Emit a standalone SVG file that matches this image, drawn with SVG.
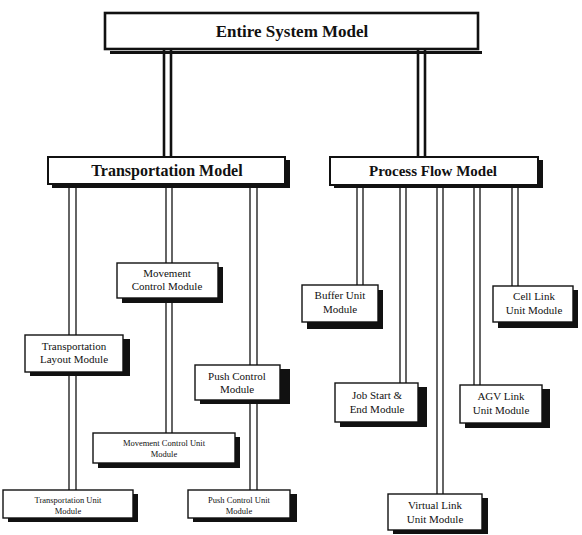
<svg xmlns="http://www.w3.org/2000/svg" width="582" height="535" viewBox="0 0 582 535">
<style>
.bg{fill:#ffffff}
.sh{fill:#111111}
.box{fill:#ffffff;stroke:#111111;stroke-width:1.4}
.big{fill:#ffffff;stroke:#111111;stroke-width:2.6}
.mid{fill:#ffffff;stroke:#111111;stroke-width:2}
.c{stroke:#111111;stroke-width:1.3;fill:none}
.ct{stroke:#111111;stroke-width:2.6;fill:none}
.ttl{font-family:"Liberation Serif",serif;font-weight:bold;fill:#111111;text-anchor:middle}
.lbl{font-family:"Liberation Serif",serif;fill:#111111;text-anchor:middle;font-size:11px}
.sm{font-family:"Liberation Serif",serif;fill:#111111;text-anchor:middle;font-size:8.5px}
</style>
<rect class="bg" x="0" y="0" width="582" height="535"/>
<g id="connectors">
<line class="ct" x1="164" y1="50" x2="164" y2="157"/>
<line class="ct" x1="171" y1="50" x2="171" y2="157"/>
<line class="ct" x1="418" y1="50" x2="418" y2="157"/>
<line class="ct" x1="425" y1="50" x2="425" y2="157"/>
<line class="c" x1="69" y1="185" x2="69" y2="490"/>
<line class="c" x1="76" y1="185" x2="76" y2="490"/>
<line class="c" x1="166" y1="185" x2="166" y2="433"/>
<line class="c" x1="172" y1="185" x2="172" y2="433"/>
<line class="c" x1="250" y1="185" x2="250" y2="490"/>
<line class="c" x1="257" y1="185" x2="257" y2="490"/>
<line class="c" x1="357" y1="185" x2="357" y2="285"/>
<line class="c" x1="363" y1="185" x2="363" y2="285"/>
<line class="c" x1="400" y1="185" x2="400" y2="383"/>
<line class="c" x1="406" y1="185" x2="406" y2="383"/>
<line class="c" x1="437" y1="185" x2="437" y2="494"/>
<line class="c" x1="443" y1="185" x2="443" y2="494"/>
<line class="c" x1="474" y1="185" x2="474" y2="385"/>
<line class="c" x1="480" y1="185" x2="480" y2="385"/>
<line class="c" x1="512" y1="185" x2="512" y2="286"/>
<line class="c" x1="518" y1="185" x2="518" y2="286"/>
</g>
<g id="entire">
<rect class="sh" x="110" y="51" width="372" height="3"/>
<rect class="big" x="105" y="13" width="373" height="36"/>
<text class="ttl" x="292" y="37" font-size="17">Entire System Model</text>
</g>
<g id="transportation">
<rect class="sh" x="52" y="160" width="238" height="28"/>
<rect class="mid" x="48" y="157" width="237" height="27"/>
<text class="ttl" x="167" y="176" font-size="16">Transportation Model</text>
</g>
<g id="process">
<rect class="sh" x="334" y="160" width="209" height="28"/>
<rect class="mid" x="330" y="157" width="208" height="28"/>
<text class="ttl" x="433" y="176" font-size="15">Process Flow Model</text>
</g>
<g id="movement">
<rect class="sh" x="122" y="267" width="101" height="36"/>
<rect class="box" x="117" y="263" width="101" height="35"/>
<text class="lbl" x="167" y="277">Movement</text>
<text class="lbl" x="167" y="290">Control Module</text>
</g>
<g id="layout">
<rect class="sh" x="30" y="339" width="100" height="37"/>
<rect class="box" x="25" y="335" width="98" height="37"/>
<text class="lbl" x="74" y="350">Transportation</text>
<text class="lbl" x="74" y="363">Layout Module</text>
</g>
<g id="push">
<rect class="sh" x="200" y="369" width="90" height="35"/>
<rect class="box" x="195" y="365" width="85" height="35"/>
<text class="lbl" x="237" y="380">Push Control</text>
<text class="lbl" x="237" y="393">Module</text>
</g>
<g id="movementunit">
<rect class="sh" x="98" y="437" width="142" height="31"/>
<rect class="box" x="93" y="433" width="142" height="30"/>
<text class="sm" x="164" y="446">Movement Control Unit</text>
<text class="sm" x="164" y="457">Module</text>
</g>
<g id="transunit">
<rect class="sh" x="8" y="494" width="130" height="28"/>
<rect class="box" x="3" y="490" width="130" height="28"/>
<text class="sm" x="68" y="503">Transportation Unit</text>
<text class="sm" x="68" y="514">Module</text>
</g>
<g id="pushunit">
<rect class="sh" x="193" y="494" width="104" height="28"/>
<rect class="box" x="188" y="490" width="102" height="28"/>
<text class="sm" x="239" y="503">Push Control Unit</text>
<text class="sm" x="239" y="514">Module</text>
</g>
<g id="buffer">
<rect class="sh" x="307" y="290" width="76" height="39"/>
<rect class="box" x="302" y="285" width="76" height="37"/>
<text class="lbl" x="340" y="299">Buffer Unit</text>
<text class="lbl" x="340" y="313">Module</text>
</g>
<g id="cell">
<rect class="sh" x="498" y="290" width="80" height="38"/>
<rect class="box" x="493" y="286" width="80" height="36"/>
<text class="lbl" x="534" y="300">Cell Link</text>
<text class="lbl" x="534" y="314">Unit Module</text>
</g>
<g id="jobstart">
<rect class="sh" x="340" y="387" width="87" height="40"/>
<rect class="box" x="335" y="383" width="83" height="39"/>
<text class="lbl" x="377" y="399">Job Start &amp;</text>
<text class="lbl" x="377" y="413">End Module</text>
</g>
<g id="agv">
<rect class="sh" x="465" y="389" width="85" height="39"/>
<rect class="box" x="460" y="385" width="82" height="38"/>
<text class="lbl" x="501" y="400">AGV Link</text>
<text class="lbl" x="501" y="414">Unit Module</text>
</g>
<g id="virtual">
<rect class="sh" x="393" y="498" width="95" height="36"/>
<rect class="box" x="388" y="494" width="94" height="36"/>
<text class="lbl" x="435" y="509">Virtual Link</text>
<text class="lbl" x="435" y="523">Unit Module</text>
</g>
</svg>
